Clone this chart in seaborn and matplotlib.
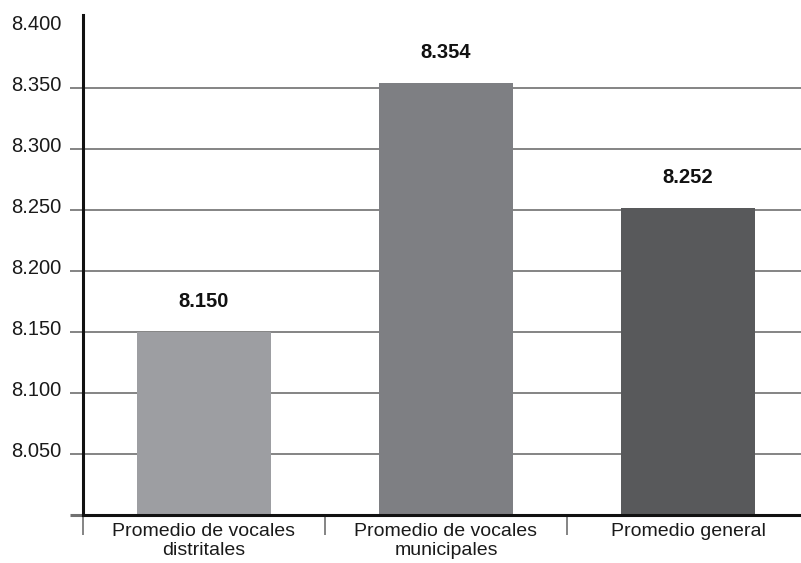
import matplotlib
matplotlib.use("Agg")
import matplotlib.pyplot as plt
from matplotlib.transforms import ScaledTranslation
import seaborn as sns
import pandas as pd

# Promedios por tipo de vocal
categories = ["Promedio de vocales\ndistritales",
              "Promedio de vocales\nmunicipales",
              "Promedio general"]
values = [8.150, 8.354, 8.252]
value_labels = ["8.150", "8.354", "8.252"]
bar_colors = ["#9d9ea2", "#7e7f83", "#58595b"]

y_ticks = [8.000, 8.050, 8.100, 8.150, 8.200, 8.250, 8.300, 8.350, 8.400]
y_tick_labels = ["", "8.050", "8.100", "8.150", "8.200", "8.250", "8.300", "8.350", "8.400"]

sns.set_theme(style="white")
plt.rcParams["font.family"] = ["Liberation Sans", "DejaVu Sans"]

df = pd.DataFrame({"categoria": categories, "valor": values})

W, H = 801, 563
fig = plt.figure(figsize=(W / 100, H / 100), dpi=100)
ax = fig.add_axes([83 / W, 48 / H, 718 / W, 500 / H])

sns.barplot(data=df, x="categoria", y="valor", hue="categoria",
            palette=bar_colors, width=0.55, legend=False, ax=ax,
            saturation=1, linewidth=0, zorder=3)

ax.set_ylim(8.0, 8.41)
ax.set_xlim(-0.5, -0.5 + 718 / 242)
ax.set_xlabel("")
ax.set_ylabel("")

# Y axis: ticks, labels and gridlines
ax.set_yticks(y_ticks)
ax.set_yticklabels(y_tick_labels, fontsize=14.5, color="#1a1a1a")
ax.tick_params(axis="y", which="major", length=9.5, width=1.2,
               color="#707070", pad=6.0, left=True)
ax.yaxis.grid(True, color="#707070", linewidth=1.2, zorder=0)
ax.set_axisbelow(True)
yticks = ax.yaxis.get_major_ticks()
yticks[0].gridline.set_visible(False)
yticks[0].tick1line.set_color("#111111")
yticks[0].tick1line.set_markeredgewidth(2.2)
yticks[-1].gridline.set_visible(False)
yticks[-1].tick1line.set_visible(False)
shift = ScaledTranslation(0, 5 / 100, fig.dpi_scale_trans)
for lab in ax.get_yticklabels():
    lab.set_transform(lab.get_transform() + shift)

# X axis: category labels with separators between categories
ax.set_xticks(range(len(categories)))
ax.set_xticklabels(categories, fontsize=14, linespacing=1.15, color="#1a1a1a")
ax.tick_params(axis="x", which="major", length=0, pad=6)
ax.set_xticks([-0.5, 0.5, 1.5], minor=True)
ax.tick_params(axis="x", which="minor", length=14.5, width=1.2,
               color="#707070", bottom=True)

# Spines
for side in ["top", "right"]:
    ax.spines[side].set_visible(False)
for side in ["left", "bottom"]:
    ax.spines[side].set_color("#111111")
    ax.spines[side].set_linewidth(2.2)
    ax.spines[side].set_zorder(5)

# Value labels above the bars
for i, (v, txt) in enumerate(zip(values, value_labels)):
    ax.annotate(txt, xy=(i, v), xytext=(0, 21), textcoords="offset pixels",
                ha="center", va="bottom", fontsize=14.5, fontweight="bold",
                color="#111111")

fig.savefig("out.png", dpi=100)
